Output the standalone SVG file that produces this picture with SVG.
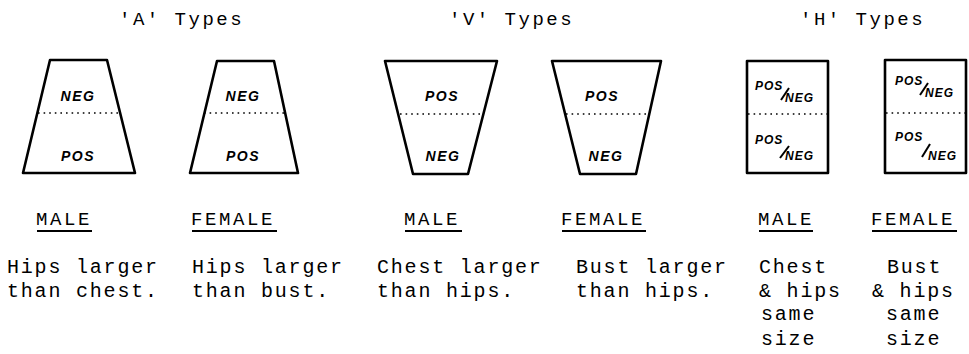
<svg xmlns="http://www.w3.org/2000/svg" width="969" height="354" viewBox="0 0 969 354">
<style>
.bg{fill:#fff}
.shape{fill:#fff;stroke:#000;stroke-width:2.6;stroke-linejoin:round}
.div{stroke:#000;stroke-width:1.6;stroke-dasharray:1.6 4;fill:none}
.title{font-family:"Liberation Mono","DejaVu Sans Mono",monospace;font-size:19px;letter-spacing:2.5px;fill:#000}
.hdr{font-family:"Liberation Mono","DejaVu Sans Mono",monospace;font-size:19px;letter-spacing:2.6px;fill:#000}
.body{font-family:"Liberation Mono","DejaVu Sans Mono",monospace;font-size:20px;letter-spacing:1.8px;fill:#000}
.hand{font-family:"Liberation Sans",Arial,sans-serif;font-weight:bold;font-style:italic;font-size:14px;letter-spacing:1.5px;fill:#000;text-anchor:middle}
.hs{font-family:"Liberation Sans",Arial,sans-serif;font-weight:bold;font-style:italic;font-size:12px;letter-spacing:1px;fill:#000}
.ul{stroke:#000;stroke-width:2}
.sl{stroke:#000;stroke-width:2}
</style>
<rect class="bg" x="0" y="0" width="969" height="354"/>

<g id="titles">
<text class="title" x="119" y="25">'A' Types</text>
<text class="title" x="449" y="25">'V' Types</text>
<text class="title" x="800" y="25">'H' Types</text>
</g>

<g id="a-male">
<polygon class="shape" points="50,60 107,60 135,173 23,173"/>
<line class="div" x1="38" y1="113" x2="119" y2="113"/>
<text class="hand" x="78" y="101">NEG</text>
<text class="hand" x="78" y="161">POS</text>
<text class="hdr" x="36" y="225">MALE</text>
<line class="ul" x1="37" y1="231" x2="92" y2="231"/>
<text class="body" x="7" y="273">Hips larger</text>
<text class="body" x="7" y="297">than chest.</text>
</g>

<g id="a-female">
<polygon class="shape" points="217,61 274,61 298,173 190,173"/>
<line class="div" x1="204" y1="113" x2="285" y2="113"/>
<text class="hand" x="243" y="101">NEG</text>
<text class="hand" x="243" y="161">POS</text>
<text class="hdr" x="191" y="225">FEMALE</text>
<line class="ul" x1="192" y1="231" x2="277" y2="231"/>
<text class="body" x="192" y="273">Hips larger</text>
<text class="body" x="192" y="297">than bust.</text>
</g>

<g id="v-male">
<polygon class="shape" points="385,61 497,61 468,174 413,174"/>
<line class="div" x1="400" y1="114" x2="483" y2="114"/>
<text class="hand" x="442" y="101">POS</text>
<text class="hand" x="443" y="161">NEG</text>
<text class="hdr" x="404" y="225">MALE</text>
<line class="ul" x1="405" y1="231" x2="462" y2="231"/>
<text class="body" x="377" y="273">Chest larger</text>
<text class="body" x="377" y="297">than hips.</text>
</g>

<g id="v-female">
<polygon class="shape" points="552,61 661,61 636,174 580,174"/>
<line class="div" x1="566" y1="114" x2="649" y2="114"/>
<text class="hand" x="602" y="101">POS</text>
<text class="hand" x="606" y="161">NEG</text>
<text class="hdr" x="561" y="225">FEMALE</text>
<line class="ul" x1="562" y1="231" x2="646" y2="231"/>
<text class="body" x="576" y="273">Bust larger</text>
<text class="body" x="576" y="297">than hips.</text>
</g>

<g id="h-male">
<rect class="shape" x="747" y="61" width="81" height="112"/>
<line class="div" x1="748" y1="114" x2="827" y2="114"/>
<text class="hs" x="755" y="90">POS</text>
<line class="sl" x1="781" y1="100" x2="789" y2="88"/>
<text class="hs" x="785" y="102">NEG</text>
<text class="hs" x="755" y="144">POS</text>
<line class="sl" x1="780" y1="158" x2="789" y2="146"/>
<text class="hs" x="785" y="160">NEG</text>
<text class="hdr" x="758" y="225">MALE</text>
<line class="ul" x1="759" y1="231" x2="813" y2="231"/>
<text class="body" x="759" y="273">Chest</text>
<text class="body" x="759" y="297">&amp; hips</text>
<text class="body" x="761" y="320">same</text>
<text class="body" x="761" y="345">size</text>
</g>

<g id="h-female">
<rect class="shape" x="885" y="60" width="81" height="113"/>
<line class="div" x1="886" y1="113" x2="965" y2="113"/>
<text class="hs" x="895" y="85">POS</text>
<line class="sl" x1="920" y1="95" x2="928" y2="83"/>
<text class="hs" x="925" y="97">NEG</text>
<text class="hs" x="895" y="141">POS</text>
<line class="sl" x1="922" y1="157" x2="930" y2="144"/>
<text class="hs" x="928" y="160">NEG</text>
<text class="hdr" x="871" y="225">FEMALE</text>
<line class="ul" x1="872" y1="231" x2="957" y2="231"/>
<text class="body" x="887" y="273">Bust</text>
<text class="body" x="872" y="297">&amp; hips</text>
<text class="body" x="886" y="320">same</text>
<text class="body" x="886" y="345">size</text>
</g>

<g id="connectors"></g>
</svg>
